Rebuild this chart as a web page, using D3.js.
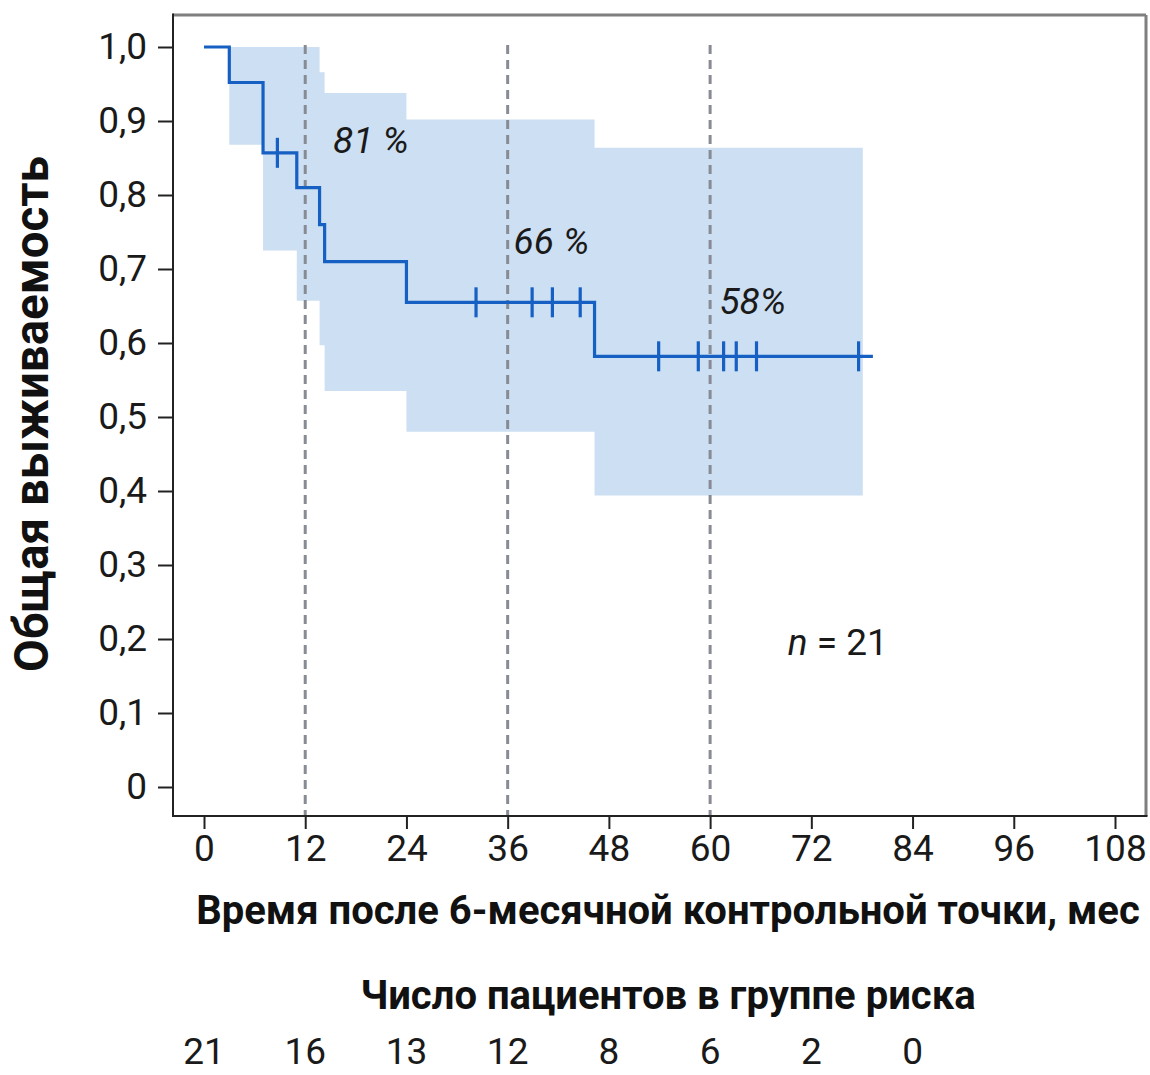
<!DOCTYPE html>
<html><head><meta charset="utf-8">
<script src="https://cdn.jsdelivr.net/npm/d3@7"></script>
<style>body{margin:0;background:#fff} text{font-family:Roboto,"Noto Sans",sans-serif}</style>
</head><body><svg id="c" width="1150" height="1075"></svg>
<script>
// ---- data ----
const stepTimes = [0, 3, 7, 11, 13.7, 14.3, 24, 46.3];
const stepSurv  = [1.0, 0.952, 0.857, 0.81, 0.76, 0.71, 0.655, 0.582];
const curveEnd = 79.3;
const bandTimes = [3, 7, 11, 13.7, 14.3, 24, 46.3];
const bandUpper = [1.0, 1.0, 1.0, 0.966, 0.938, 0.902, 0.864];
const bandLower = [0.868, 0.725, 0.657, 0.597, 0.535, 0.48, 0.394];
const bandEnd = 78.1;
const censorTimes = [8.7, 32.25, 38.9, 41.3, 44.6, 53.9, 58.6, 61.6, 63.1, 65.5, 77.6];
const landmarkTimes = [12, 36, 60];
const landmarkLabels = ["81 %", "66 %", "58%"];
const xTicks = [0, 12, 24, 36, 48, 60, 72, 84, 96, 108];
const yTicks = [0, 0.1, 0.2, 0.3, 0.4, 0.5, 0.6, 0.7, 0.8, 0.9, 1.0];
const riskTimes = [0, 12, 24, 36, 48, 60, 72, 84];
const riskCounts = [21, 16, 13, 12, 8, 6, 2, 0];
const yTitle = "Общая выживаемость";
const xTitle = "Время после 6-месячной контрольной точки, мес";
const riskTitle = "Число пациентов в группе риска";

// ---- layout ----
const svg = d3.select("#c");
const x = d3.scaleLinear().domain([0, 108]).range([204, 1115]);
const y = d3.scaleLinear().domain([0, 1]).range([787, 47]);
const frame = {l: 173, r: 1146, t: 15, b: 816};
const blue = "#1660c4";

// band
const bandPts = bandTimes.map((t, i) => ({t, lo: bandLower[i], hi: bandUpper[i]}));
bandPts.push({t: bandEnd, lo: bandLower[bandLower.length-1], hi: bandUpper[bandUpper.length-1]});
svg.append("path")
  .attr("d", d3.area().curve(d3.curveStepAfter).x(d => x(d.t)).y0(d => y(d.lo)).y1(d => y(d.hi))(bandPts))
  .attr("fill", "#cddff2");

// landmark dashed lines
svg.selectAll("line.lm").data(landmarkTimes).join("line")
  .attr("x1", d => x(d)).attr("x2", d => x(d))
  .attr("y1", y(1.0) - 2).attr("y2", frame.b)
  .attr("stroke", "#878b94").attr("stroke-width", 3).attr("stroke-dasharray", "9,6");

// frame
svg.append("line").attr("x1", frame.l).attr("x2", frame.r).attr("y1", frame.t).attr("y2", frame.t)
  .attr("stroke", "#7f7f7f").attr("stroke-width", 3);
svg.append("line").attr("x1", frame.r).attr("x2", frame.r).attr("y1", frame.t).attr("y2", frame.b)
  .attr("stroke", "#7f7f7f").attr("stroke-width", 3);

// step curve
const stepPts = stepTimes.map((t, i) => ({t, s: stepSurv[i]}));
stepPts.push({t: curveEnd, s: stepSurv[stepSurv.length-1]});
svg.append("path")
  .attr("d", d3.line().curve(d3.curveStepAfter).x(d => x(d.t)).y(d => y(d.s))(stepPts))
  .attr("fill", "none").attr("stroke", blue).attr("stroke-width", 3.2);

// censor marks
function survAt(t) { let s = 1; stepTimes.forEach((st, i) => { if (st <= t) s = stepSurv[i]; }); return s; }
svg.selectAll("line.cens").data(censorTimes).join("line")
  .attr("x1", d => x(d)).attr("x2", d => x(d))
  .attr("y1", d => y(survAt(d)) - 15).attr("y2", d => y(survAt(d)) + 15)
  .attr("stroke", blue).attr("stroke-width", 3.2);

// axes
const fmtY = d => d === 0 ? "0" : d3.format(".1f")(d).replace(".", ",");
const gy = svg.append("g").attr("transform", `translate(${frame.l},0)`)
  .call(d3.axisLeft(y).tickValues(yTicks).tickFormat(fmtY).tickSize(15).tickPadding(11));
const gx = svg.append("g").attr("transform", `translate(0,${frame.b})`)
  .call(d3.axisBottom(x).tickValues(xTicks).tickFormat(d3.format("d")).tickSize(13).tickPadding(6));
[gy, gx].forEach(g => {
  g.select(".domain").remove();
  g.selectAll(".tick line").attr("stroke", "#222").attr("stroke-width", 2);
  g.selectAll(".tick text").attr("fill", "#1a1a1a").style("font-size", "37px").style("font-family", "Roboto");
});
svg.append("line").attr("x1", frame.l).attr("x2", frame.l).attr("y1", frame.t - 1.5).attr("y2", frame.b + 1)
  .attr("stroke", "#222").attr("stroke-width", 2);
svg.append("line").attr("x1", frame.l - 1).attr("x2", frame.r + 1.5).attr("y1", frame.b).attr("y2", frame.b)
  .attr("stroke", "#222").attr("stroke-width", 2);

// landmark labels
const lblPos = [[15.3, 0.857], [36.7, 0.72], [61.1, 0.639]];
svg.selectAll("text.lbl").data(landmarkLabels).join("text")
  .attr("x", (d, i) => x(lblPos[i][0])).attr("y", (d, i) => y(lblPos[i][1]))
  .attr("font-size", 37).attr("font-style", "italic").attr("fill", "#1a1a1a").text(d => d);

// n = 21
const nt = svg.append("text").attr("x", x(69.2)).attr("y", y(0.178)).attr("font-size", 37).attr("fill", "#1a1a1a");
nt.append("tspan").attr("font-style", "italic").text("n");
nt.append("tspan").text(" = " + riskCounts[0]);

// titles
svg.append("text").attr("transform", "translate(48,414) rotate(-90)").attr("text-anchor", "middle")
  .attr("font-size", 47.5).attr("font-weight", "bold").attr("fill", "#111").text(yTitle);
svg.append("text").attr("x", 668).attr("y", 924).attr("text-anchor", "middle")
  .attr("font-size", 40).attr("font-weight", "bold").attr("fill", "#111").text(xTitle);
svg.append("text").attr("x", 668).attr("y", 1009).attr("text-anchor", "middle")
  .attr("font-size", 40).attr("font-weight", "bold").attr("fill", "#111").text(riskTitle);

// risk table
svg.selectAll("text.risk").data(riskCounts).join("text")
  .attr("x", (d, i) => x(riskTimes[i])).attr("y", 1064).attr("text-anchor", "middle")
  .attr("font-size", 37).attr("fill", "#1a1a1a").text(d => d);
</script></body></html>
